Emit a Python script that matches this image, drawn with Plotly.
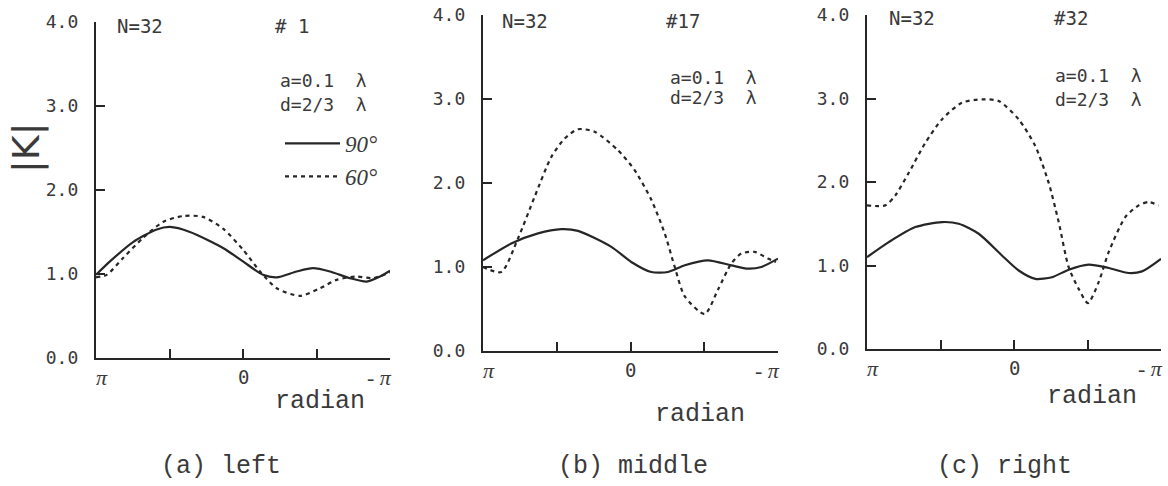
import plotly.graph_objects as go
from plotly.subplots import make_subplots

# ---------------- data (x in units of pi, from +pi to -pi) ----------------
p1_solid_x = [1.0, 0.905, 0.748, 0.587, 0.497, 0.361, 0.136, 0.0, -0.136, -0.229, -0.365, -0.476, -0.592, -0.728, -0.841, -0.932, -1.0]
p1_solid_y = [0.99, 1.15, 1.38, 1.53, 1.56, 1.50, 1.31, 1.15, 0.99, 0.96, 1.03, 1.07, 1.03, 0.95, 0.91, 0.97, 1.04]
p1_dash_x = [1.0, 0.927, 0.816, 0.680, 0.544, 0.408, 0.272, 0.136, 0.0, -0.116, -0.229, -0.388, -0.524, -0.637, -0.773, -0.884, -1.0]
p1_dash_y = [0.96, 0.99, 1.19, 1.43, 1.62, 1.69, 1.68, 1.54, 1.29, 1.03, 0.83, 0.74, 0.83, 0.93, 0.97, 0.95, 1.02]

p2_solid_x = [1.0, 0.808, 0.627, 0.469, 0.356, 0.130, -0.005, -0.141, -0.254, -0.368, -0.525, -0.683, -0.797, -0.887, -1.0]
p2_solid_y = [1.08, 1.28, 1.40, 1.45, 1.43, 1.24, 1.06, 0.94, 0.94, 1.02, 1.08, 1.02, 0.98, 1.00, 1.10]
p2_dash_x = [1.0, 0.876, 0.763, 0.649, 0.537, 0.446, 0.356, 0.243, 0.085, -0.029, -0.141, -0.232, -0.300, -0.368, -0.503, -0.593, -0.683, -0.751, -0.842, -0.932, -0.986]
p2_dash_y = [1.00, 0.94, 1.34, 1.84, 2.31, 2.53, 2.64, 2.61, 2.39, 2.15, 1.80, 1.40, 1.00, 0.65, 0.44, 0.73, 1.04, 1.16, 1.18, 1.10, 1.06]

p3_solid_x = [1.0, 0.852, 0.671, 0.490, 0.376, 0.240, 0.082, -0.032, -0.145, -0.259, -0.372, -0.508, -0.644, -0.780, -0.871, -1.0]
p3_solid_y = [1.10, 1.28, 1.46, 1.52, 1.50, 1.38, 1.12, 0.94, 0.84, 0.86, 0.95, 1.01, 0.97, 0.91, 0.93, 1.08]
p3_dash_x = [1.0, 0.876, 0.807, 0.716, 0.603, 0.490, 0.354, 0.218, 0.104, -0.032, -0.145, -0.236, -0.304, -0.372, -0.440, -0.503, -0.576, -0.644, -0.757, -0.848, -0.916, -0.984]
p3_dash_y = [1.72, 1.72, 1.84, 2.11, 2.47, 2.75, 2.95, 2.99, 2.97, 2.75, 2.43, 1.99, 1.52, 0.98, 0.72, 0.55, 0.80, 1.16, 1.58, 1.72, 1.76, 1.72]

series_names = ["90°", "60°"]
y_tick_vals = [0, 1, 2, 3, 4]
y_tick_text = ["0.0", "1.0", "2.0", "3.0", "4.0"]
x_tick_vals = [1, 0.5, 0, -0.5, -1]
x_label_vals = [1, 0, -1]
x_label_text = ["<i>π</i>", "0", "- <i>π</i>"]
panel_ids = ["# 1", "#17", "#32"]
captions = ["(a) left", "(b) middle", "(c) right"]
n_text = "N=32"
a_text = "a=0.1  λ"
d_text = "d=2/3  λ"
x_title = "radian"
y_title = "|K|"

W, H = 1168, 486
def px(x):
    return x / W
def py(y):
    return 1 - y / H

INK = "#262626"
TXT = "#3a3a3a"
MONO_SERIF = "Liberation Mono, Courier New, Courier, Nimbus Mono PS, FreeMono, monospace"

fig = make_subplots(rows=1, cols=3)

panels = [
    (p1_solid_x, p1_solid_y, p1_dash_x, p1_dash_y),
    (p2_solid_x, p2_solid_y, p2_dash_x, p2_dash_y),
    (p3_solid_x, p3_solid_y, p3_dash_x, p3_dash_y),
]
for i, (sx, sy, dx, dy) in enumerate(panels):
    fig.add_trace(go.Scatter(x=sx, y=sy, mode="lines", name=series_names[0],
                             line=dict(color=INK, width=2.2, shape="spline", smoothing=0.7),
                             showlegend=(i == 0)), row=1, col=i + 1)
    fig.add_trace(go.Scatter(x=dx, y=dy, mode="lines", name=series_names[1],
                             line=dict(color=INK, width=2.2, dash="4px,4px", shape="spline", smoothing=0.7),
                             showlegend=(i == 0)), row=1, col=i + 1)

# domains in pixels: (x_left, x_right, y_zero, y_four)
doms = [(96, 390, 358, 22), (483, 778, 351, 15), (867, 1161, 349, 15)]
for i, (xl, xr, y0, y4) in enumerate(doms):
    k = "" if i == 0 else str(i + 1)
    fig.layout["xaxis" + k].update(
        domain=[px(xl), px(xr)], range=[1, -1], automargin=False,
        tickvals=x_tick_vals, showticklabels=False,
        ticks="inside", ticklen=9, tickwidth=2, tickcolor=INK,
        showline=True, linewidth=2.2, linecolor=INK,
        showgrid=False, zeroline=False)
    fig.layout["yaxis" + k].update(
        domain=[py(y0), py(y4)], range=[0, 4], automargin=False,
        tickvals=y_tick_vals, ticktext=y_tick_text,
        ticks="inside", ticklen=9, tickwidth=2, tickcolor=INK,
        showline=True, linewidth=2.2, linecolor=INK,
        showgrid=False, zeroline=False, ticklabelstandoff=12,
        tickfont=dict(family="DejaVu Sans Mono", size=18, color=TXT))

ann = []
def add(text, x, y, size, family="DejaVu Sans Mono", xanchor="center", angle=0, style="normal"):
    ann.append(dict(text=text, x=px(x), y=py(y), xref="paper", yref="paper",
                    xanchor=xanchor, yanchor="middle", showarrow=False, textangle=angle,
                    font=dict(family=family, size=size, color=TXT, style=style)))

# x tick labels placed on the data axes
for i, (xl, xr, y0, y4) in enumerate(doms):
    k = "" if i == 0 else str(i + 1)
    anchors = ["left", "center", "right"]
    shifts = [-2, 0, 4]
    for v, t, a, s in zip(x_label_vals, x_label_text, anchors, shifts):
        ann.append(dict(text=t, x=v, y=py(y0 + 19), xref="x" + k, yref="paper",
                        xanchor=a, yanchor="middle", xshift=s, showarrow=False,
                        font=dict(family="DejaVu Sans Mono" if t == "0" else "Liberation Serif",
                                  size=19 if t == "0" else 22, color=TXT)))

# top labels
n_pos = [(140, 26), (525, 21), (912, 18)]
id_pos = [(292, 26), (683, 21), (1071, 18)]
a_pos = [(278, 80, 104), (668, 77, 98), (1053, 76, 99)]
rad_pos = [(320, 401), (700, 414), (1092, 396)]
cap_pos = [(221, 466), (633, 466), (1004, 466)]
for i in range(3):
    add(n_text, n_pos[i][0], n_pos[i][1], 19)
    add(panel_ids[i], id_pos[i][0], id_pos[i][1], 19)
    add(a_text, a_pos[i][0], a_pos[i][1], 18, xanchor="left")
    add(d_text, a_pos[i][0], a_pos[i][2], 18, xanchor="left")
    add(x_title, rad_pos[i][0], rad_pos[i][1], 25, family=MONO_SERIF)
    add(captions[i], cap_pos[i][0], cap_pos[i][1], 25, family=MONO_SERIF)

add(y_title, 27, 148, 38, family="DejaVu Sans", angle=-90)

fig.update_layout(
    width=W, height=H, margin=dict(l=0, r=0, t=0, b=0),
    paper_bgcolor="white", plot_bgcolor="white",
    annotations=ann,
    legend=dict(x=px(280), y=py(122), xanchor="left", yanchor="top",
                bgcolor="rgba(0,0,0,0)", itemwidth=55, tracegroupgap=0,
                font=dict(family="Liberation Serif", size=23, color=TXT, style="italic")),
)

fig.write_html("out.html", config={"displayModeBar": False},
               post_script="document.body.style.margin='0';document.body.style.overflow='hidden';")
